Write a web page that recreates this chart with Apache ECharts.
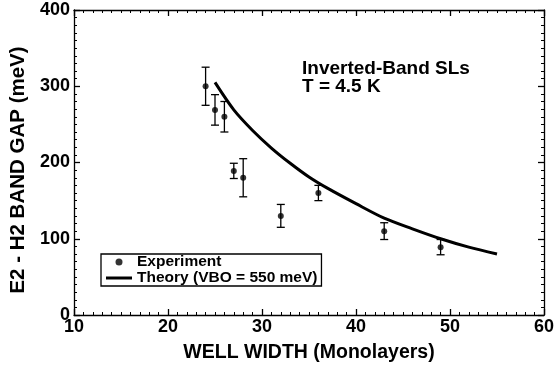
<!DOCTYPE html>
<html>
<head>
<meta charset="utf-8">
<script src="https://cdn.jsdelivr.net/npm/echarts@6/dist/echarts.min.js"></script>
<style>
html,body{margin:0;padding:0;background:#fff;}
#c{width:560px;height:368px;}
</style>
</head>
<body>
<div id="c"></div>
<script>
// Experimental points (well width in monolayers, gap in meV, error in meV)
var expX = [24, 25, 26, 27, 28, 32, 36, 43, 49];
var expY = [300, 269, 260, 189, 180, 130, 160, 110, 89];
var expErr = [25, 20, 20, 10, 25, 15, 10, 11, 10];

// Theory curve
var theoryX = [25, 27, 29, 31, 33, 35, 37, 40, 43, 46, 49, 52, 55];
var theoryY = [305, 269, 242, 219, 199, 181, 166, 146, 127, 113, 100, 89, 80];

var xTicks = [10, 20, 30, 40, 50, 60];
var yTicks = [0, 100, 200, 300, 400];

var FONT = 'Liberation Sans, Arial, Helvetica, sans-serif';

var chart = echarts.init(document.getElementById('c'), null, {renderer: 'canvas'});

function axisBase(pos, showLabel, isX) {
  return {
    type: 'value',
    position: pos,
    min: isX ? xTicks[0] : yTicks[0],
    max: isX ? xTicks[xTicks.length - 1] : yTicks[yTicks.length - 1],
    interval: isX ? 10 : 100,
    axisLine: {show: true, onZero: false, lineStyle: {color: '#000', width: 1.3}},
    axisTick: {show: true, inside: true, length: 6, lineStyle: {color: '#000', width: 1.3}},
    minorTick: {show: true, splitNumber: 10, length: 3, lineStyle: {color: '#000', width: 1}},
    splitLine: {show: false},
    minorSplitLine: {show: false},
    axisLabel: {
      show: showLabel,
      color: '#000',
      fontFamily: FONT,
      fontWeight: 'bold',
      fontSize: 18,
      margin: isX ? 3 : 4
    }
  };
}

var xBottom = axisBase('bottom', true, true);
xBottom.name = 'WELL WIDTH (Monolayers)';
xBottom.nameLocation = 'middle';
xBottom.nameGap = 28;
xBottom.nameTextStyle = {color: '#000', fontFamily: FONT, fontWeight: 'bold', fontSize: 19.5};
var xTop = axisBase('top', false, true);

var yLeft = axisBase('left', true, false);
yLeft.name = 'E2 - H2 BAND GAP (meV)';
yLeft.nameLocation = 'middle';
yLeft.nameGap = 36;
yLeft.nameTextStyle = {color: '#000', fontFamily: FONT, fontWeight: 'bold', fontSize: 20.5, padding: [0, 15, 0, 0]};
var yRight = axisBase('right', false, false);

var errData = expX.map(function (x, i) { return [x, expY[i] - expErr[i], expY[i] + expErr[i]]; });

var option = {
  animation: false,
  backgroundColor: '#fff',
  grid: {left: 74, right: 16, top: 10, bottom: 53, containLabel: false},
  xAxis: [xBottom, xTop],
  yAxis: [yLeft, yRight],
  legend: {
    show: true,
    left: 101,
    top: 254,
    orient: 'vertical',
    data: [
      {name: 'Experiment', icon: 'circle'},
      {name: 'Theory (VBO = 550 meV)', icon: 'path://M0 0 H26 V3 H0 Z'}
    ],
    itemWidth: 26,
    itemHeight: 7,
    itemGap: 0,
    padding: [0, 4, 0, 5],
    borderColor: '#000',
    borderWidth: 1.3,
    borderRadius: 0,
    textStyle: {color: '#000', fontFamily: FONT, fontWeight: 'bold', fontSize: 15.5}
  },
  graphic: [
    {type: 'text', left: 302, top: 59, style: {text: 'Inverted-Band SLs', fill: '#000', font: 'bold 19px ' + FONT}},
    {type: 'text', left: 302, top: 77, style: {text: 'T = 4.5 K', fill: '#000', font: 'bold 19px ' + FONT}}
  ],
  series: [
    {
      name: 'Theory (VBO = 550 meV)',
      type: 'line',
      xAxisIndex: 0, yAxisIndex: 0,
      data: theoryX.map(function (x, i) { return [x, theoryY[i]]; }),
      smooth: 0.3,
      showSymbol: false,
      symbol: 'none',
      lineStyle: {color: '#000', width: 3},
      itemStyle: {color: '#000'},
      z: 3
    },
    {
      name: 'Experiment',
      type: 'scatter',
      xAxisIndex: 0, yAxisIndex: 0,
      data: expX.map(function (x, i) { return [x, expY[i]]; }),
      symbol: 'circle',
      symbolSize: 6,
      itemStyle: {color: '#000'},
      z: 4
    },
    {
      name: 'errors',
      type: 'custom',
      xAxisIndex: 0, yAxisIndex: 0,
      data: errData,
      renderItem: function (params, api) {
        var x = api.value(0);
        var lo = api.coord([x, api.value(1)]);
        var hi = api.coord([x, api.value(2)]);
        var w = 4;
        var st = {stroke: '#000', lineWidth: 1.3};
        return {
          type: 'group',
          children: [
            {type: 'line', shape: {x1: lo[0], y1: lo[1], x2: hi[0], y2: hi[1]}, style: st},
            {type: 'line', shape: {x1: lo[0] - w, y1: lo[1], x2: lo[0] + w, y2: lo[1]}, style: st},
            {type: 'line', shape: {x1: hi[0] - w, y1: hi[1], x2: hi[0] + w, y2: hi[1]}, style: st}
          ]
        };
      },
      z: 3
    }
  ]
};
chart.setOption(option);
</script>
</body>
</html>
